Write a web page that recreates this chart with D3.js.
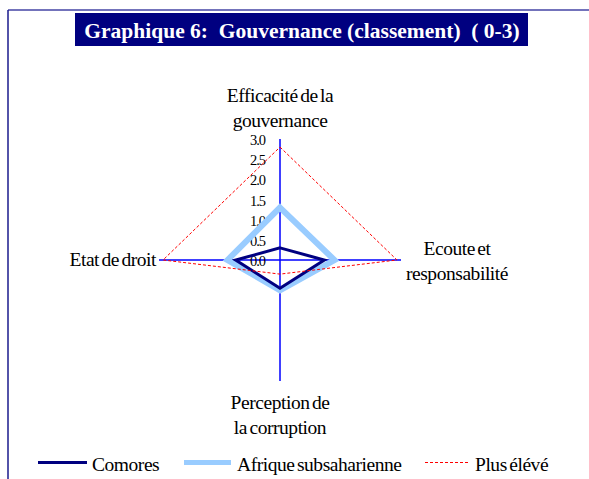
<!DOCTYPE html>
<html lang="fr">
<head>
  <meta charset="UTF-8">
  <title>Graphique 6</title>
  <style>
    body { margin: 0; background: #fff; }
  </style>
</head>
<body>
  <svg width="589" height="479"></svg>
  <script src="https://d3js.org/d3.v7.min.js"></script>
  <script>
    // axes in clockwise order starting from the top
    var axisNames = [["Efficacité de la", "gouvernance"], ["Ecoute et", "responsabilité"], ["Perception de", "la corruption"], ["Etat de droit"]];
    var comores = [0.3, 1.1, 0.7, 1.1];
    var afrique = [1.3, 1.35, 0.75, 1.3];
    var plusEleve = [2.8, 2.9, 0.35, 2.9];
    var tickValues = [0, 0.5, 1, 1.5, 2, 2.5, 3];
    var seriesNames = ["Comores", "Afrique subsaharienne", "Plus élévé"];

    var svg = d3.select("svg");
    var cx = 280, cy = 260;
    var serif = "'Liberation Serif', 'Times New Roman', serif";

    var r = d3.scaleLinear().domain([0, 3]).range([0, 121]);
    var angle = d3.scaleOrdinal().domain(d3.range(4)).range([0, Math.PI / 2, Math.PI, Math.PI * 1.5]);

    // frame and title
    svg.append("line").attr("x1", 8).attr("x2", 589).attr("y1", 10).attr("y2", 10)
      .attr("stroke", "#4545a5").attr("stroke-width", 1.5);
    svg.append("line").attr("x1", 8).attr("x2", 8).attr("y1", 10).attr("y2", 479)
      .attr("stroke", "#1a1a8c").attr("stroke-width", 1.5);
    svg.append("rect").attr("x", 75).attr("y", 13).attr("width", 453).attr("height", 33).attr("fill", "#000080");
    svg.append("text")
      .attr("x", 302).attr("y", 37.5)
      .attr("text-anchor", "middle")
      .attr("fill", "#fff")
      .attr("font-family", serif)
      .style("font-size", "21.5px").style("font-weight", "bold")
      .style("white-space", "pre")
      .text("Graphique 6:  Gouvernance (classement)  ( 0-3)");

    var g = svg.append("g").attr("transform", "translate(" + cx + "," + cy + ")");

    function pt(i, v) {
      var a = angle(i);
      return [Math.sin(a) * r(v), -Math.cos(a) * r(v)];
    }

    // axes
    d3.range(4).forEach(function(i) {
      var p = pt(i, 3);
      g.append("line").attr("x1", 0).attr("y1", 0).attr("x2", p[0]).attr("y2", p[1])
        .attr("stroke", "#0000ff").attr("stroke-width", 1.5);
    });

    // tick labels
    g.selectAll(".tick").data(tickValues).enter().append("text")
      .attr("class", "tick")
      .attr("x", -15)
      .attr("y", function(d) { return -r(d); })
      .attr("dy", "0.42em")
      .attr("text-anchor", "end")
      .attr("font-family", serif)
      .style("font-size", "14.5px").style("letter-spacing", "-1px")
      .text(function(d) { return d3.format(".1f")(d); });

    var line = d3.line().curve(d3.curveLinearClosed);

    function drawSeries(vals, color, width, dash) {
      g.append("path")
        .attr("d", line(vals.map(function(v, i) { return pt(i, v); })))
        .attr("fill", "none")
        .attr("stroke", color)
        .attr("stroke-width", width)
        .attr("stroke-dasharray", dash)
        .attr("stroke-linejoin", "miter");
    }
    drawSeries(afrique, "#99ccff", 6, null);
    drawSeries(comores, "#000080", 3, null);
    drawSeries(plusEleve, "#ff0000", 1, "3,2");

    // axis labels
    var labelPos = [
      {x: 0, y: -158, anchor: "middle"},
      {x: 177, y: -5, anchor: "middle"},
      {x: 0, y: 149, anchor: "middle"},
      {x: -124, y: 6, anchor: "end"}
    ];
    axisNames.forEach(function(lines, i) {
      var t = g.append("text")
        .attr("x", labelPos[i].x).attr("y", labelPos[i].y)
        .attr("text-anchor", labelPos[i].anchor)
        .attr("font-family", serif)
        .style("font-size", "19.5px").style("letter-spacing", "-0.45px").style("word-spacing", "-2px")
        .attr("fill", "#000");
      lines.forEach(function(l, j) {
        t.append("tspan").attr("x", labelPos[i].x).attr("dy", j === 0 ? 0 : 25).text(l);
      });
    });

    // legend
    var legend = [
      {x1: 38, x2: 87, tx: 92, color: "#000080", width: 3, dash: null},
      {x1: 184, x2: 231, tx: 237, color: "#99ccff", width: 5, dash: null},
      {x1: 425, x2: 468, tx: 475, color: "#ff0000", width: 1, dash: "3,2"}
    ];
    legend.forEach(function(d, i) {
      svg.append("line").attr("x1", d.x1).attr("x2", d.x2).attr("y1", 462.5).attr("y2", 462.5)
        .attr("stroke", d.color).attr("stroke-width", d.width).attr("stroke-dasharray", d.dash);
      svg.append("text").attr("x", d.tx).attr("y", 471)
        .attr("font-family", serif)
        .style("font-size", "19.5px").style("letter-spacing", "-0.45px").style("word-spacing", "-2px")
        .text(seriesNames[i]);
    });
  </script>
</body>
</html>
